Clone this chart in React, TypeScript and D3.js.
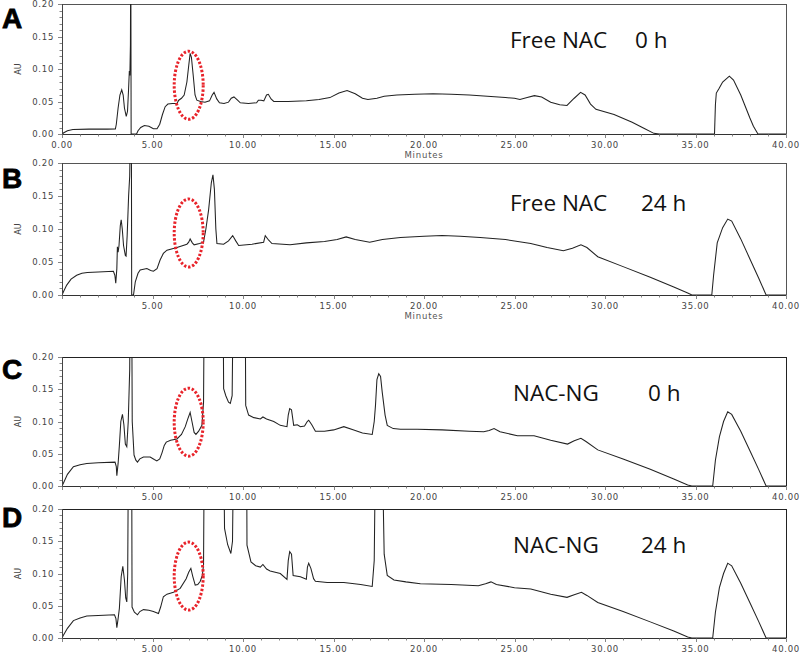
import React from 'react';
import * as d3 from 'd3';

// retention time (min) and absorbance (AU)
const timeA = [0, 0.1, 0.3, 0.6, 1.5, 2.5, 2.95, 3.0, 3.1, 3.2, 3.3, 3.38, 3.45, 3.55, 3.62, 3.68, 3.72, 3.75, 3.78, 3.8, 3.82, 4.12, 4.2, 4.35, 4.55, 4.8, 5.05, 5.25, 5.4, 5.55, 5.7, 5.85, 6.1, 6.35, 6.45, 6.6, 6.75, 6.9, 7.0, 7.08, 7.15, 7.25, 7.35, 7.45, 7.65, 7.9, 8.15, 8.3, 8.4, 8.55, 8.7, 8.95, 9.2, 9.35, 9.5, 9.7, 9.85, 10.3, 10.75, 10.85, 11.0, 11.15, 11.3, 11.4, 11.55, 11.7, 12.5, 13.5, 14.2, 14.8, 15.3, 15.75, 16.2, 16.6, 16.9, 17.4, 17.8, 18.5, 19.5, 20.5, 21.5, 22.5, 23.5, 24.5, 25.0, 25.3, 25.7, 26.1, 26.5, 27.0, 27.5, 27.9, 28.3, 28.65, 28.9, 29.2, 29.5, 30.5, 31.5, 32.2, 32.7, 33, 36.05, 36.1, 36.15, 36.3, 36.5, 36.87, 37.1, 37.5, 38.0, 38.2, 38.45, 40];
const auA = [0, 0.002, 0.005, 0.007, 0.0075, 0.0075, 0.0078, 0.015, 0.04, 0.06, 0.068, 0.06, 0.04, 0.027, 0.035, 0.07, 0.097, 0.09, 0.137, 0.3, 0, 0, 0.005, 0.01, 0.013, 0.012, 0.008, 0.008, 0.015, 0.03, 0.042, 0.046, 0.047, 0.047, 0.052, 0.055, 0.06, 0.08, 0.105, 0.124, 0.118, 0.09, 0.06, 0.052, 0.05, 0.049, 0.051, 0.06, 0.064, 0.054, 0.048, 0.047, 0.049, 0.055, 0.057, 0.052, 0.048, 0.047, 0.048, 0.052, 0.052, 0.051, 0.06, 0.061, 0.054, 0.05, 0.05, 0.051, 0.053, 0.056, 0.063, 0.067, 0.062, 0.055, 0.053, 0.055, 0.058, 0.06, 0.061, 0.062, 0.061, 0.06, 0.058, 0.056, 0.055, 0.053, 0.056, 0.059, 0.057, 0.049, 0.045, 0.044, 0.055, 0.064, 0.06, 0.046, 0.038, 0.03, 0.018, 0.008, 0.001, 0, 0, 0.045, 0.063, 0.07, 0.08, 0.089, 0.083, 0.06, 0.025, 0.012, 0, 0];

const timeB = [0, 0.1, 0.26, 0.5, 0.81, 1.1, 1.4, 2.0, 2.84, 2.92, 2.97, 3.03, 3.06, 3.1, 3.15, 3.22, 3.27, 3.33, 3.4, 3.5, 3.54, 3.6, 3.68, 3.74, 3.8, 3.83, 3.85, 3.95, 4.05, 4.2, 4.32, 4.69, 4.9, 5.05, 5.25, 5.42, 5.6, 5.8, 6.35, 6.9, 7.0, 7.08, 7.2, 7.3, 7.6, 7.82, 7.95, 8.1, 8.25, 8.34, 8.42, 8.5, 8.56, 8.93, 9.2, 9.43, 9.6, 9.76, 10.5, 11.14, 11.23, 11.42, 11.6, 12.6, 13.5, 14.5, 15.2, 15.7, 16.2, 17.0, 17.7, 18.7, 20.0, 21.0, 22.0, 23.1, 24.5, 25.9, 26.8, 27.7, 28.2, 28.67, 29.0, 29.6, 31.0, 32.5, 33.8, 34.57, 34.8, 35.9, 36.0, 36.2, 36.5, 36.78, 37.0, 37.5, 38.0, 38.5, 38.9, 40];
const auB = [0, 0.006, 0.015, 0.024, 0.03, 0.033, 0.034, 0.035, 0.036, 0.03, 0.018, 0.04, 0.073, 0.065, 0.075, 0.105, 0.114, 0.1, 0.075, 0.06, 0.059, 0.09, 0.15, 0.18, 0.3, 0.3, 0, 0, 0.02, 0.033, 0.038, 0.04, 0.037, 0.036, 0.04, 0.053, 0.063, 0.068, 0.072, 0.077, 0.08, 0.085, 0.079, 0.076, 0.078, 0.08, 0.1, 0.129, 0.17, 0.182, 0.16, 0.1, 0.078, 0.077, 0.082, 0.09, 0.082, 0.075, 0.077, 0.08, 0.09, 0.083, 0.078, 0.076, 0.079, 0.081, 0.084, 0.088, 0.084, 0.08, 0.084, 0.087, 0.089, 0.09, 0.089, 0.087, 0.084, 0.078, 0.072, 0.067, 0.071, 0.076, 0.072, 0.058, 0.043, 0.027, 0.012, 0.003, 0, 0, 0.03, 0.079, 0.102, 0.115, 0.112, 0.085, 0.055, 0.025, 0, 0];

const timeC = [0, 0.07, 0.3, 0.63, 1.0, 1.37, 2.0, 2.93, 3.0, 3.03, 3.1, 3.17, 3.25, 3.34, 3.42, 3.5, 3.58, 3.66, 3.74, 3.77, 3.85, 3.88, 3.98, 4.08, 4.17, 4.3, 4.5, 4.87, 5.1, 5.24, 5.4, 5.52, 5.65, 5.76, 6.0, 6.35, 6.6, 6.81, 6.95, 7.08, 7.18, 7.3, 7.4, 7.55, 7.73, 7.82, 7.86, 8.9, 8.93, 9.05, 9.2, 9.3, 9.4, 9.46, 10.12, 10.15, 10.31, 10.6, 10.96, 11.1, 11.3, 11.7, 12.06, 12.43, 12.5, 12.58, 12.68, 12.8, 13.0, 13.17, 13.4, 13.55, 13.63, 13.8, 14.0, 14.5, 15.01, 15.57, 16.12, 16.6, 17.14, 17.25, 17.32, 17.4, 17.5, 17.6, 17.69, 17.85, 17.97, 18.3, 18.7, 19.63, 21.0, 22.5, 23.3, 23.6, 23.87, 24.2, 25.16, 26.08, 27.0, 27.93, 28.3, 28.67, 28.95, 29.6, 31.0, 32.5, 33.8, 34.57, 34.8, 35.95, 36.1, 36.32, 36.55, 36.78, 37.0, 37.5, 38.0, 38.5, 38.9, 40];
const auC = [0, 0.004, 0.018, 0.03, 0.033, 0.035, 0.036, 0.037, 0.03, 0.016, 0.035, 0.063, 0.1, 0.111, 0.095, 0.065, 0.061, 0.1, 0.18, 0.3, 0.3, 0.1, 0.048, 0.04, 0.037, 0.042, 0.045, 0.045, 0.041, 0.039, 0.042, 0.051, 0.063, 0.068, 0.071, 0.073, 0.08, 0.092, 0.104, 0.114, 0.1, 0.083, 0.08, 0.085, 0.094, 0.13, 0.3, 0.3, 0.151, 0.14, 0.13, 0.128, 0.14, 0.3, 0.3, 0.125, 0.11, 0.106, 0.104, 0.107, 0.104, 0.1, 0.094, 0.092, 0.11, 0.12, 0.118, 0.094, 0.095, 0.092, 0.093, 0.1, 0.102, 0.095, 0.085, 0.085, 0.087, 0.092, 0.087, 0.082, 0.08, 0.1, 0.125, 0.165, 0.174, 0.17, 0.146, 0.11, 0.094, 0.089, 0.088, 0.088, 0.087, 0.085, 0.084, 0.086, 0.089, 0.084, 0.078, 0.078, 0.071, 0.065, 0.07, 0.074, 0.069, 0.056, 0.042, 0.026, 0.011, 0.0015, 0, 0, 0.04, 0.076, 0.1, 0.115, 0.111, 0.085, 0.055, 0.025, 0, 0];

const timeD = [0, 0.07, 0.3, 0.63, 1.0, 1.37, 2.0, 2.9, 2.98, 3.03, 3.1, 3.17, 3.27, 3.36, 3.45, 3.52, 3.58, 3.63, 3.67, 3.85, 3.87, 4.0, 4.17, 4.3, 4.5, 4.8, 5.05, 5.33, 5.45, 5.6, 5.8, 6.16, 6.53, 6.86, 7.0, 7.12, 7.22, 7.36, 7.5, 7.64, 7.75, 7.82, 7.86, 8.93, 8.98, 9.15, 9.33, 9.42, 9.48, 10.2, 10.22, 10.44, 10.7, 10.96, 11.1, 11.3, 11.5, 12.06, 12.43, 12.5, 12.58, 12.68, 12.77, 13.17, 13.5, 13.56, 13.63, 13.75, 13.9, 14.0, 14.65, 15.57, 16.5, 17.14, 17.25, 17.32, 17.69, 17.8, 17.97, 18.34, 19.0, 19.8, 21.5, 23.0, 23.4, 23.7, 24.0, 25.0, 25.9, 27.0, 27.9, 28.3, 28.7, 29.0, 29.6, 31.0, 32.5, 33.8, 34.57, 34.8, 35.95, 36.1, 36.32, 36.55, 36.78, 37.0, 37.5, 38.0, 38.5, 38.9, 40];
const auD = [0, 0.004, 0.015, 0.027, 0.031, 0.034, 0.035, 0.036, 0.03, 0.016, 0.03, 0.046, 0.095, 0.111, 0.09, 0.062, 0.056, 0.1, 0.3, 0.3, 0.048, 0.04, 0.036, 0.041, 0.044, 0.043, 0.041, 0.038, 0.048, 0.064, 0.068, 0.071, 0.077, 0.092, 0.102, 0.108, 0.096, 0.082, 0.083, 0.088, 0.097, 0.113, 0.3, 0.3, 0.17, 0.145, 0.131, 0.15, 0.3, 0.3, 0.144, 0.118, 0.112, 0.11, 0.114, 0.107, 0.104, 0.1, 0.091, 0.12, 0.134, 0.13, 0.097, 0.095, 0.091, 0.11, 0.116, 0.108, 0.092, 0.088, 0.086, 0.086, 0.083, 0.08, 0.12, 0.3, 0.3, 0.13, 0.097, 0.09, 0.087, 0.084, 0.083, 0.081, 0.084, 0.087, 0.083, 0.078, 0.076, 0.068, 0.063, 0.067, 0.071, 0.066, 0.055, 0.041, 0.025, 0.011, 0.0015, 0, 0, 0.04, 0.078, 0.1, 0.116, 0.112, 0.085, 0.055, 0.025, 0, 0];

const panelLetters = ['A', 'B', 'C', 'D'];
const sampleNames = ['Free NAC', 'Free NAC', 'NAC-NG', 'NAC-NG'];
const sampleTimes = ['0 h', '24 h', '0 h', '24 h'];
const yTicks = [0, 0.05, 0.1, 0.15, 0.2];
const xTicks = [0, 5, 10, 15, 20, 25, 30, 35, 40];
// where the red dotted ring sits (min, AU)
const ringT = [7.0, 7.0, 7.0, 7.0];
const ringAU = [0.075, 0.094, 0.099, 0.096];

const traces = [
  [timeA, auA],
  [timeB, auB],
  [timeC, auC],
  [timeD, auD],
];

// layout per panel (pixels)
const layout = [
  { top: 4, bottom: 134, letterY: 28, nameX: 510, timeX: 635, textY: 48, zeroLabel: true, minutes: true, frame: '#555' },
  { top: 163, bottom: 295, letterY: 188, nameX: 510, timeX: 641, textY: 211, zeroLabel: false, minutes: true, frame: '#555' },
  { top: 357, bottom: 486, letterY: 379, nameX: 513, timeX: 648, textY: 401, zeroLabel: false, minutes: false, frame: '#222' },
  { top: 509, bottom: 638, letterY: 527, nameX: 513, timeX: 641, textY: 553, zeroLabel: false, minutes: false, frame: '#222' },
];

const x = d3.scaleLinear().domain([0, 40]).range([62, 786]);
const tickFont = 'DejaVu Sans, sans-serif';

function Panel({ i }) {
  const L = layout[i];
  const y = d3.scaleLinear().domain([0, 0.2]).range([L.bottom, L.top]);
  const [ts, vs] = traces[i];
  const pts = ts.map((t, k) => [t, vs[k]] as [number, number]);
  const line = d3.line<[number, number]>().x(d => x(d[0])).y(d => y(d[1]));
  const minorY = d3.range(0, 0.2001, 0.01);
  const minorX = d3.range(0, 40.001, 1);
  const clipId = 'clip' + i;

  return (
    <g>
      <defs>
        <clipPath id={clipId}>
          <rect x={x(0)} y={L.top} width={x(40) - x(0)} height={L.bottom - L.top + 1} />
        </clipPath>
      </defs>

      {/* frame */}
      <line x1={x(0)} x2={x(40)} y1={L.top + 0.5} y2={L.top + 0.5} stroke={L.frame} strokeWidth={1} />
      <line x1={x(40) + 0.5} x2={x(40) + 0.5} y1={L.top} y2={L.bottom} stroke={L.frame} strokeWidth={1} />

      {/* trace */}
      <path d={line(pts) || ''} fill="none" stroke="#222" strokeWidth={1.05} clipPath={`url(#${clipId})`} />

      {/* y axis */}
      <line x1={x(0) + 0.5} x2={x(0) + 0.5} y1={L.top} y2={L.bottom} stroke="#444" />
      {minorY.map((v, k) => (
        <line key={'my' + k} x1={x(0) - (k % 5 === 0 ? 4 : 2.5)} x2={x(0)} y1={Math.round(y(v)) + 0.5} y2={Math.round(y(v)) + 0.5} stroke="#666" strokeWidth={0.8} />
      ))}
      {yTicks.map(v => (
        <text key={'yl' + v} x={54} y={y(v) + 3} textAnchor="end" fontFamily={tickFont} fontSize={8.5} letterSpacing={0.7} fill="#444">
          {v.toFixed(2)}
        </text>
      ))}
      <text transform={`translate(21,${(L.top + L.bottom) / 2}) rotate(-90)`} textAnchor="middle" fontFamily={tickFont} fontSize={8} fill="#444">
        AU
      </text>

      {/* x axis */}
      <line x1={x(0)} x2={x(40)} y1={L.bottom + 0.5} y2={L.bottom + 0.5} stroke="#333" />
      {minorX.map((t, k) => (
        <line key={'mx' + k} x1={Math.round(x(t)) + 0.5} x2={Math.round(x(t)) + 0.5} y1={L.bottom} y2={L.bottom + (k % 5 === 0 ? 4 : 2.5)} stroke="#666" strokeWidth={0.8} />
      ))}
      {xTicks.filter(t => L.zeroLabel || t > 0).map(t => (
        <text key={'xl' + t} x={x(t)} y={L.bottom + 14} textAnchor="middle" fontFamily={tickFont} fontSize={8.5} letterSpacing={0.7} fill="#444">
          {t.toFixed(2)}
        </text>
      ))}
      {L.minutes && (
        <text x={x(20)} y={L.bottom + 24} textAnchor="middle" fontFamily={tickFont} fontSize={8.5} letterSpacing={0.8} fill="#555">
          Minutes
        </text>
      )}

      {/* labels */}
      <text x={2} y={L.letterY} fontFamily="Liberation Sans, Arial, sans-serif" fontWeight="bold" fontSize={28} fill="#000" stroke="#000" strokeWidth={0.8}>
        {panelLetters[i]}
      </text>
      <text x={L.nameX} y={L.textY} fontFamily="Open Sans, sans-serif" fontSize={22.5} fill="#111">
        {sampleNames[i]}
      </text>
      <text x={L.timeX} y={L.textY} fontFamily="Open Sans, sans-serif" fontSize={22.5} fill="#111">
        {sampleTimes[i]}
      </text>

      {/* dotted ring */}
      <ellipse cx={x(ringT[i])} cy={y(ringAU[i])} rx={14.5} ry={34} fill="none" stroke="#e8232a" strokeWidth={3} strokeDasharray="2.4 1.8" />
    </g>
  );
}

export default function App() {
  return (
    <svg width={800} height={663} style={{ position: 'absolute', left: 0, top: 0, display: 'block', background: '#fff' }}>
      <rect x={0} y={0} width={800} height={663} fill="#fff" />
      {layout.map((_, i) => (
        <Panel key={i} i={i} />
      ))}
    </svg>
  );
}
